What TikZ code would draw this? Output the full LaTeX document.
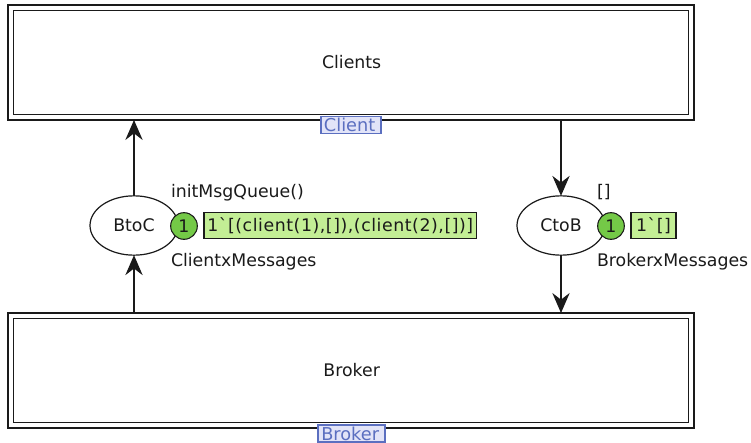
\documentclass[tikz,border=0pt]{standalone}
\usepackage{fontspec}
\setmainfont{DejaVu Sans}
\newfontfamily\rawfont[LetterSpace=3.2]{DejaVu Sans}
\usetikzlibrary{arrows.meta,shapes.geometric}
\definecolor{tokfill}{HTML}{74C947}
\definecolor{markfill}{HTML}{C3EE95}
\definecolor{tagblue}{HTML}{5B6FC0}
\definecolor{tagfill}{HTML}{E2E4F8}
\definecolor{ink}{HTML}{1A1A1A}
\tikzset{
  every node/.style={font=\fontsize{13}{15}\selectfont, text=ink, inner sep=0pt, outer sep=0pt},
  substouter/.style={draw=ink, line width=1pt, minimum width=514.5pt, minimum height=86.25pt},
  substinner/.style={draw=ink, line width=1pt, minimum width=506pt, minimum height=78pt},
  place/.style={draw=ink, fill=white, ellipse, line width=0.9pt, minimum width=66pt, minimum height=44.5pt},
  token/.style={circle, draw=ink, fill=tokfill, line width=0.8pt, minimum size=20pt},
  marking/.style={draw=ink, fill=markfill, line width=0.9pt, minimum height=20pt, anchor=west, inner xsep=2.5pt, align=left, font=\fontsize{13}{15}\selectfont\rawfont},
  tag/.style={draw=tagblue, fill=tagfill, text=tagblue, line width=1.1pt, minimum height=12.75pt, font=\fontsize{13.3}{15}\selectfont},
  inscr/.style={anchor=base west},
  arc/.style={draw=ink, line width=0.95pt, -{Stealth[length=15pt, width=13pt, inset=5pt]}},
}
\begin{document}
\begin{tikzpicture}[x=0.75pt, y=-0.75pt]
\useasboundingbox (0,0) rectangle (751,443);
\node[substouter] (clients) at (351,62.5) {};
\node[substinner] (clientsin) at (351,62.5) {\hspace{1pt}Clients};
\node[substouter] (broker) at (351,370.5) {};
\node[substinner] (brokerin) at (351,370.5) {\hspace{1pt}Broker};
\node[tag, minimum width=45pt] (clienttag) at (351,125) {\hspace{-2pt}Client};
\node[tag, minimum width=50pt] (brokertag) at (351.5,433.5) {\hspace{-2pt}Broker};
\node[place] (btoc) at (134,225.5) {BtoC};
\node[place] (ctob) at (561,225.5) {CtoB};
\node[token] (t1) at (184,226) {1};
\node[token] (t2) at (611,226) {1};
\node[marking] (m1) at (204,225.5) {1`[(client(1),[]),(client(2),[])]};
\node[marking, minimum width=33.75pt] (m2) at (631,225.5) {1`[]};
\node[inscr] (i1) at (171,197) {initMsgQueue()};
\node[inscr] (c1) at (171,266) {ClientxMessages};
\node[inscr] (i2) at (597,197) {[]};
\node[inscr] (c2) at (597,266) {BrokerxMessages};
\draw[arc] (btoc.north) -- (btoc |- clients.south);
\draw[arc] (btoc |- broker.north) -- (btoc.south);
\draw[arc] (ctob |- clients.south) -- (ctob.north);
\draw[arc] (ctob.south) -- (ctob |- broker.north);
\end{tikzpicture}
\end{document}
